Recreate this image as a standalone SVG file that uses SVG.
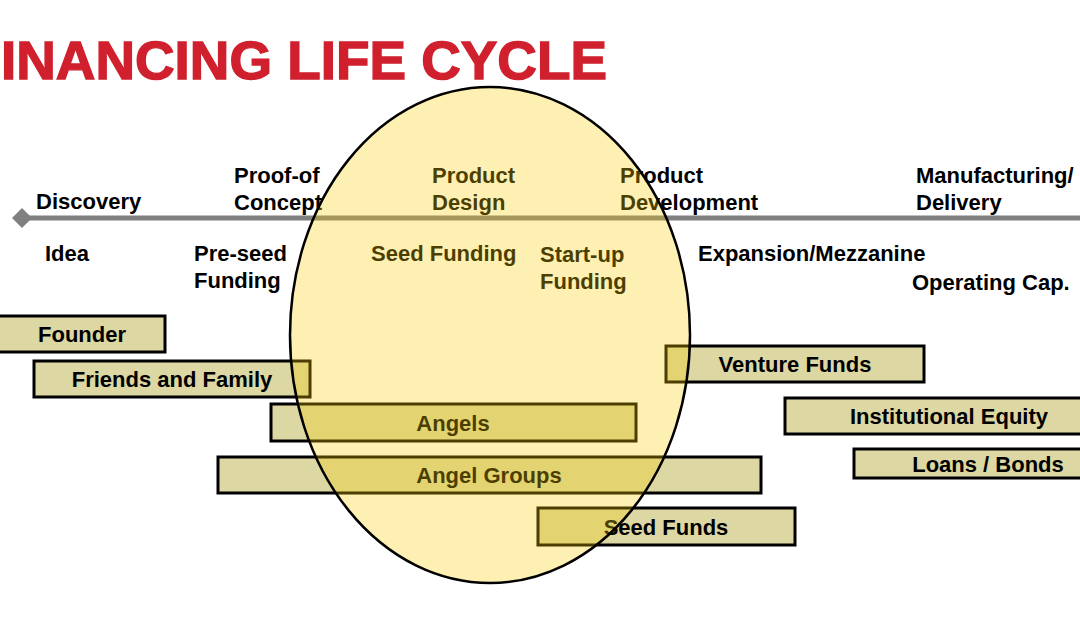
<svg xmlns="http://www.w3.org/2000/svg" width="1080" height="631" viewBox="0 0 1080 631">
  <style>
    .lbl { font-family: "Liberation Sans", Arial, sans-serif; font-weight: bold; font-size: 22px; fill: #000; }
    .bar { fill: #dcd7a3; stroke: #000; stroke-width: 3; }
    .barText { font-family: "Liberation Sans", Arial, sans-serif; font-weight: bold; font-size: 22px; fill: #000; text-anchor: middle; }
    .title { font-family: "Liberation Sans", Arial, sans-serif; font-weight: bold; font-size: 54px; fill: #d0202e; stroke: #d0202e; stroke-width: 1.4; }
  </style>
  <rect x="0" y="0" width="1080" height="631" fill="#ffffff"/>
  <text class="title" x="1" y="79" textLength="606" lengthAdjust="spacingAndGlyphs">INANCING LIFE CYCLE</text>

  <g id="connectors">
    <line x1="22" y1="218" x2="1080" y2="218" stroke="#808080" stroke-width="5"/>
    <polygon points="12,218 22,208 32,218 22,228" fill="#808080"/>
  </g>

  <g id="stages">
    <text class="lbl" x="36" y="209">Discovery</text>
    <text class="lbl" x="234" y="183">Proof-of</text>
    <text class="lbl" x="234" y="210">Concept</text>
    <text class="lbl" x="432" y="183">Product</text>
    <text class="lbl" x="432" y="210">Design</text>
    <text class="lbl" x="620" y="183">Product</text>
    <text class="lbl" x="620" y="210">Development</text>
    <text class="lbl" x="916" y="183">Manufacturing/</text>
    <text class="lbl" x="916" y="210">Delivery</text>
  </g>

  <g id="rounds">
    <text class="lbl" x="45" y="261">Idea</text>
    <text class="lbl" x="194" y="261">Pre-seed</text>
    <text class="lbl" x="194" y="288">Funding</text>
    <text class="lbl" x="371" y="261">Seed Funding</text>
    <text class="lbl" x="540" y="262">Start-up</text>
    <text class="lbl" x="540" y="289">Funding</text>
    <text class="lbl" x="698" y="261">Expansion/Mezzanine</text>
    <text class="lbl" x="912" y="290">Operating Cap.</text>
  </g>

  <g id="founder">
    <rect class="bar" x="-5" y="316" width="170" height="36"/>
    <text class="barText" x="82" y="342">Founder</text>
  </g>
  <g id="friends-family">
    <rect class="bar" x="34" y="361" width="276" height="36"/>
    <text class="barText" x="172" y="387">Friends and Family</text>
  </g>
  <g id="angels">
    <rect class="bar" x="271" y="404" width="365" height="37"/>
    <text class="barText" x="453" y="431">Angels</text>
  </g>
  <g id="angel-groups">
    <rect class="bar" x="218" y="457" width="543" height="36"/>
    <text class="barText" x="489" y="483">Angel Groups</text>
  </g>
  <g id="seed-funds">
    <rect class="bar" x="538" y="508" width="257" height="37"/>
    <text class="barText" x="666" y="535">Seed Funds</text>
  </g>
  <g id="venture-funds">
    <rect class="bar" x="666" y="346" width="258" height="36"/>
    <text class="barText" x="795" y="372">Venture Funds</text>
  </g>
  <g id="institutional-equity">
    <rect class="bar" x="785" y="398" width="300" height="36"/>
    <text class="barText" x="949" y="424">Institutional Equity</text>
  </g>
  <g id="loans-bonds">
    <rect class="bar" x="854" y="449" width="231" height="29"/>
    <text class="barText" x="988" y="472">Loans / Bonds</text>
  </g>

  <g id="focus-ellipse">
    <ellipse cx="490" cy="335" rx="200" ry="248" fill="#facd00" fill-opacity="0.3" stroke="#000" stroke-width="2.5"/>
  </g>
</svg>
